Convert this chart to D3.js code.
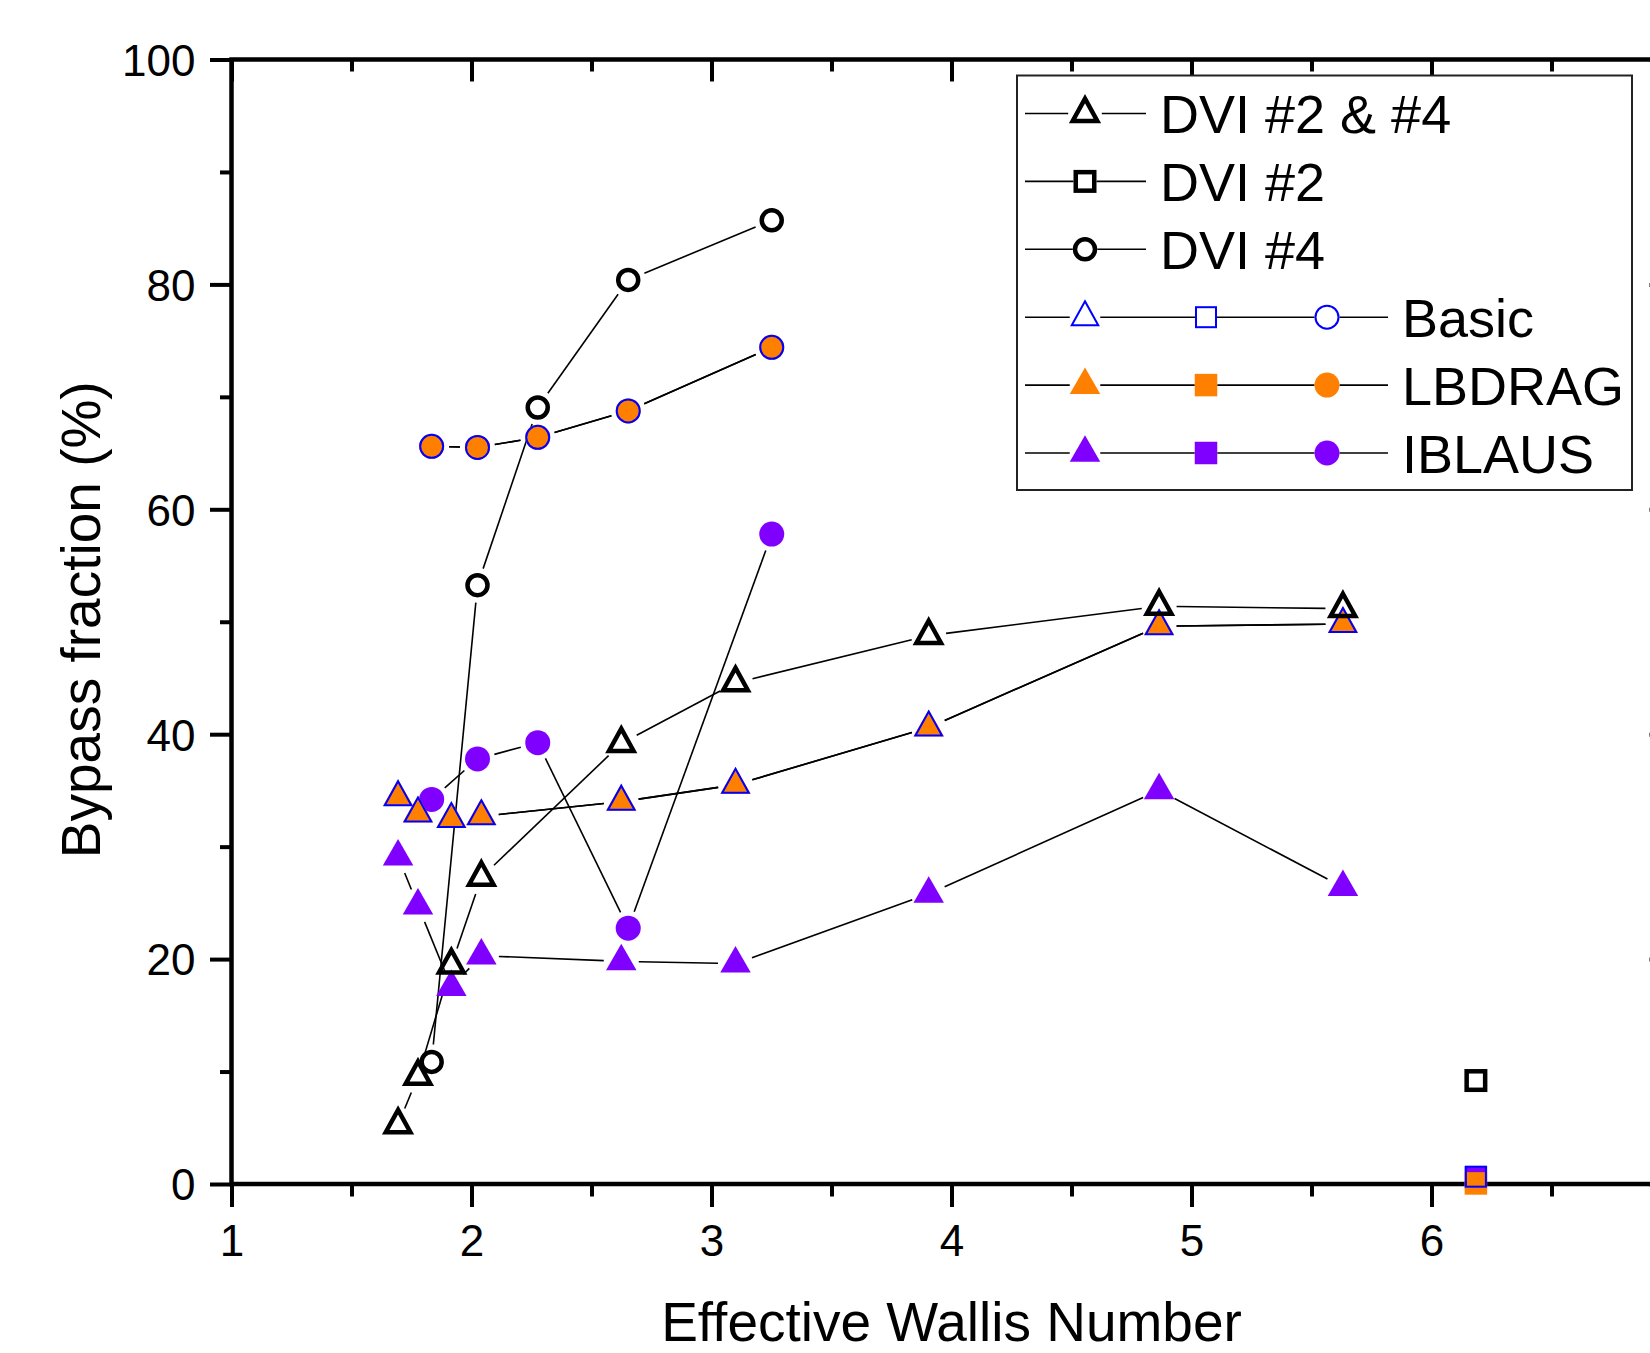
<!DOCTYPE html>
<html><head><meta charset="utf-8">
<script src="https://cdn.jsdelivr.net/npm/d3@7"></script>
<style>
body{margin:0;background:#fff}
text{font-family:"Liberation Sans",Arial,Helvetica,sans-serif;fill:#000}
</style>
</head><body>
<svg id="chart" width="1650" height="1353"></svg>
<script>
// ---------- data ----------
const triX  = [1.694, 1.777, 1.916, 2.041, 2.624, 3.100, 3.905, 4.865, 5.631];
const circX = [1.834, 2.025, 2.276, 2.653, 3.251];
const sqX   = [6.185];

const dvi24Tri   = [5.27, 9.57, 19.47, 27.27, 39.17, 44.57, 48.77, 51.37, 51.17];
const dvi2Sq     = [9.2];
const dvi4Circ   = [10.86, 53.25, 69.05, 80.4, 85.7];

const basicTri   = [34.4, 32.95, 32.45, 32.7, 34.0, 35.5, 40.6, 49.6, 49.8];
const basicSq    = [0.65];
const basicCirc  = [65.6, 65.5, 66.4, 68.75, 74.4];

const lbdragTri  = [34.4, 32.95, 32.45, 32.7, 34.0, 35.5, 40.6, 49.6, 49.8];
const lbdragSq   = [0.05];
const lbdragCirc = [65.6, 65.5, 66.4, 68.75, 74.4];

const iblausTri  = [29.1, 24.75, 17.5, 20.3, 19.8, 19.6, 25.8, 35.0, 26.4];
const iblausSq   = [0.6];
const iblausCirc = [34.2, 37.8, 39.25, 22.75, 57.8];

const xMajor = [1, 2, 3, 4, 5, 6, 7];
const xLabels = [1, 2, 3, 4, 5, 6];
const xMinor = [1.5, 2.5, 3.5, 4.5, 5.5, 6.5];
const yMajor = [0, 20, 40, 60, 80, 100];
const yMinor = [10, 30, 50, 70, 90];

const legendLabels = ["DVI #2 & #4", "DVI #2", "DVI #4", "Basic", "LBDRAG", "IBLAUS"];
const xTitle = "Effective Wallis Number";
const yTitle = "Bypass fraction (%)";

// ---------- styles ----------
const STY = {
  black:  {stroke:"#000", sw:4.5, fill:"none", tri:[24.6,22.3], r:10, sq:18.5},
  blue:   {stroke:"#0000FF", sw:2, fill:"none", tri:[26.5,24], r:11.5, sq:20},
  orange: {stroke:"none", sw:0, fill:"#FF8000", tri:[30.5,26.5], r:12.5, sq:22.5},
  purple: {stroke:"none", sw:0, fill:"#8000FF", tri:[30.5,26.5], r:12.5, sq:22.5}
};

const series = [
  {name:"IBLAUS", st:"purple", tri:iblausTri, circ:iblausCirc, sq:iblausSq},
  {name:"LBDRAG", st:"orange", tri:lbdragTri, circ:lbdragCirc, sq:lbdragSq},
  {name:"Basic",  st:"blue",   tri:basicTri,  circ:basicCirc,  sq:basicSq},
  {name:"DVI #4", st:"black",  circ:dvi4Circ},
  {name:"DVI #2", st:"black",  sq:dvi2Sq},
  {name:"DVI #2 & #4", st:"black", tri:dvi24Tri}
];

// ---------- scales ----------
const svg = d3.select("#chart");
const x = d3.scaleLinear().domain([1, 7]).range([231.5, 1671.5]);
const y = d3.scaleLinear().domain([0, 100]).range([1184, 59.5]);
const X0 = x(1), X1 = x(7), Y0 = y(0), Y1 = y(100);

function marker(g, shape, st, cx, cy) {
  const s = STY[st];
  let el;
  if (shape === "tri") {
    const [w, h] = s.tri;
    const pts = [[cx, cy - 2*h/3], [cx + w/2, cy + h/3], [cx - w/2, cy + h/3]];
    el = g.append("path").attr("d", "M" + pts.map(p => p.join(",")).join("L") + "Z");
  } else if (shape === "circ") {
    el = g.append("circle").attr("cx", cx).attr("cy", cy).attr("r", s.r);
  } else {
    el = g.append("rect").attr("x", cx - s.sq/2).attr("y", cy - s.sq/2)
      .attr("width", s.sq).attr("height", s.sq);
  }
  el.attr("fill", s.fill).attr("stroke", s.stroke).attr("stroke-width", s.sw)
    .attr("stroke-linejoin", "miter");
}

function gappedLine(g, pts, gap) {
  for (let i = 0; i < pts.length - 1; i++) {
    const [ax, ay] = pts[i], [bx, by] = pts[i+1];
    const dx = bx - ax, dy = by - ay, L = Math.hypot(dx, dy);
    if (L <= 2*gap + 1) continue;
    const ux = dx / L, uy = dy / L;
    g.append("line")
      .attr("x1", ax + ux*gap).attr("y1", ay + uy*gap)
      .attr("x2", bx - ux*gap).attr("y2", by - uy*gap)
      .attr("stroke", "#000").attr("stroke-width", 1.6);
  }
}

// ---------- axes ----------
const axG = svg.append("g");
function styleAxis(g) {
  g.select(".domain").remove();
  g.selectAll(".tick line").attr("stroke", "#000").attr("stroke-width", 4);
}
axG.append("g").attr("transform", `translate(0,${Y0})`)
  .call(d3.axisBottom(x).tickValues(xMajor).tickSize(23).tickSizeOuter(0)
    .tickFormat(d => xLabels.includes(d) ? d3.format("d")(d) : ""))
  .call(styleAxis)
  .call(g => g.selectAll("text").attr("y", 72).attr("dy", 0)
    .attr("font-size", 44).attr("fill", "#000"));
axG.append("g").attr("transform", `translate(0,${Y0})`)
  .call(d3.axisBottom(x).tickValues(xMinor).tickSize(12.5).tickFormat(""))
  .call(styleAxis);
axG.append("g").attr("transform", `translate(0,${Y1})`)
  .call(d3.axisTop(x).tickValues(xMajor).tickSize(-22).tickFormat(""))
  .call(styleAxis);
axG.append("g").attr("transform", `translate(0,${Y1})`)
  .call(d3.axisTop(x).tickValues(xMinor).tickSize(-12).tickFormat(""))
  .call(styleAxis);
axG.append("g").attr("transform", `translate(${X0},0)`)
  .call(d3.axisLeft(y).tickValues(yMajor).tickSize(21.5).tickSizeOuter(0)
    .tickFormat(d3.format("d")))
  .call(styleAxis)
  .call(g => g.selectAll("text").attr("x", -36).attr("dy", "0.36em")
    .attr("font-size", 44).attr("fill", "#000"));
axG.append("g").attr("transform", `translate(${X0},0)`)
  .call(d3.axisLeft(y).tickValues(yMinor).tickSize(11.5).tickFormat(""))
  .call(styleAxis);
axG.append("g").attr("transform", `translate(${X1},0)`)
  .call(d3.axisRight(y).tickValues(yMajor).tickSize(-22).tickFormat(""))
  .call(styleAxis);
axG.append("g").attr("transform", `translate(${X1},0)`)
  .call(d3.axisRight(y).tickValues(yMinor).tickSize(-12).tickFormat(""))
  .call(styleAxis);

axG.append("rect").attr("x", X0).attr("y", Y1).attr("width", X1 - X0).attr("height", Y0 - Y1)
  .attr("fill", "none").attr("stroke", "#000").attr("stroke-width", 4.5);

// titles
svg.append("text").attr("x", (X0 + X1) / 2).attr("y", 1340.5)
  .attr("text-anchor", "middle").attr("font-size", 55).text(xTitle);
svg.append("text").attr("transform", `translate(100,${(Y0 + Y1) / 2 - 2}) rotate(-90)`)
  .attr("text-anchor", "middle").attr("font-size", 55).text(yTitle);

// ---------- data lines then markers ----------
const lineG = svg.append("g");
const markG = svg.append("g");
const shapeX = {tri: triX, circ: circX, sq: sqX};
series.forEach(s => {
  ["tri", "circ", "sq"].forEach(sh => {
    if (!s[sh]) return;
    const pts = s[sh].map((v, i) => [x(shapeX[sh][i]), y(v)]);
    gappedLine(lineG, pts, 17.5);
  });
});
series.forEach(s => {
  ["tri", "circ", "sq"].forEach(sh => {
    if (!s[sh]) return;
    s[sh].forEach((v, i) => marker(markG, sh, s.st, x(shapeX[sh][i]), y(v)));
  });
});

// ---------- legend ----------
const lg = svg.append("g");
lg.append("rect").attr("x", 1017).attr("y", 75.5).attr("width", 615).attr("height", 414.5)
  .attr("fill", "#fff").attr("stroke", "#222").attr("stroke-width", 2);
const legendRows = [
  {shapes:["tri"], st:"black"},
  {shapes:["sq"], st:"black"},
  {shapes:["circ"], st:"black"},
  {shapes:["tri","sq","circ"], st:"blue"},
  {shapes:["tri","sq","circ"], st:"orange"},
  {shapes:["tri","sq","circ"], st:"purple"}
];
const halfW = st => ({tri: STY[st].tri[0]/2 + STY[st].sw, sq: STY[st].sq/2 + STY[st].sw/2, circ: STY[st].r + STY[st].sw/2});
legendRows.forEach((row, i) => {
  const cy = 113.5 + i * 67.9;
  const symX = row.shapes.map((_, k) => 1085 + k * 121);
  const endX = symX[symX.length - 1] + 61;
  const hw = halfW(row.st);
  let prev = 1025;
  row.shapes.forEach((sh, k) => {
    lg.append("line").attr("x1", prev).attr("x2", symX[k] - hw[sh]).attr("y1", cy).attr("y2", cy)
      .attr("stroke", "#000").attr("stroke-width", 1.6);
    prev = symX[k] + hw[sh];
  });
  lg.append("line").attr("x1", prev).attr("x2", endX).attr("y1", cy).attr("y2", cy)
    .attr("stroke", "#000").attr("stroke-width", 1.6);
  row.shapes.forEach((sh, k) => marker(lg, sh, row.st, symX[k], cy));
  lg.append("text").attr("x", endX + 14).attr("y", cy + 19.5)
    .attr("font-size", 54).text(legendLabels[i]);
});
</script>
</body></html>
